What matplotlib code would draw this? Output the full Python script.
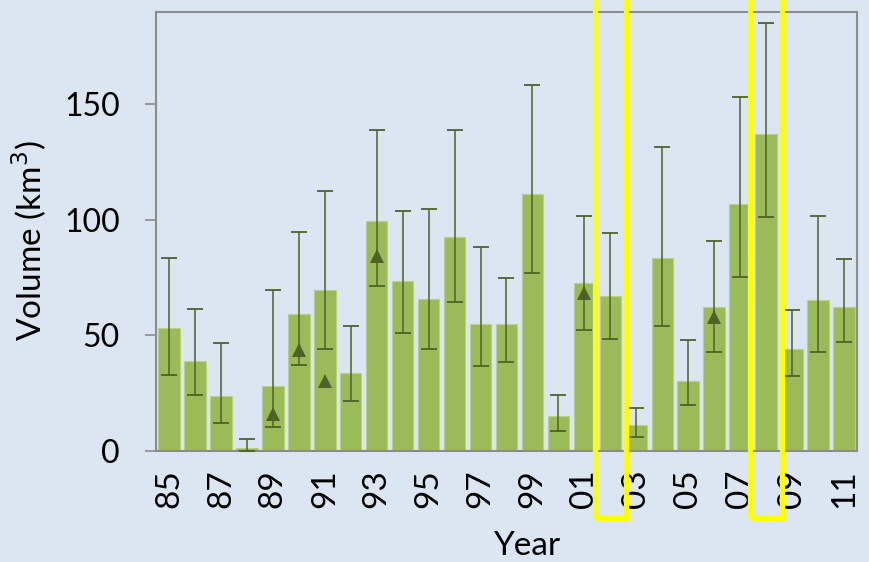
import matplotlib
matplotlib.use("Agg")
import matplotlib.pyplot as plt
import matplotlib.transforms as mtransforms
from matplotlib.patches import Rectangle
import numpy as np

# Annual volume estimates, 1985-2011
years = list(range(1985, 2012))
volume = [53.3, 38.8, 24.0, 1.1, 28.3, 59.1, 69.7, 33.6, 99.4, 73.6,
          66.0, 92.7, 54.8, 54.8, 111.2, 15.1, 72.8, 67.3, 11.2, 83.6,
          30.5, 62.4, 106.9, 137.2, 44.3, 65.4, 62.4]
upper = [83.4, 61.5, 46.7, 5.3, 69.6, 94.6, 112.7, 54.0, 139.1, 103.7,
         104.8, 138.8, 88.1, 74.8, 158.4, 24.3, 101.8, 94.2, 18.5, 131.5,
         47.9, 90.7, 153.2, 185.1, 61.1, 101.8, 83.0]
lower = [32.8, 24.3, 12.2, 0.0, 10.2, 37.1, 44.1, 21.8, 71.2, 51.2,
         44.0, 64.3, 36.8, 38.4, 76.9, 8.6, 52.2, 48.3, 6.1, 54.0,
         19.7, 42.8, 75.1, 101.1, 32.5, 42.8, 47.0]

# Independent estimates shown as triangles
tri_years = [1989, 1990, 1991, 1993, 2001, 2006]
tri_values = [16.2, 43.5, 30.3, 84.2, 68.3, 57.9]

# Years outlined in yellow
highlight_years = [2002, 2008]

tick_years = years[::2]
tick_labels = [f"{y % 100:02d}" for y in tick_years]

bg = "#dce6f2"
bar_color = "#9bbb59"
dark = "#4f6228"

plt.rcParams["font.family"] = ["Lato", "DejaVu Sans"]

fig = plt.figure(figsize=(8.7, 5.62), dpi=100, facecolor=bg)
ax = fig.add_axes([156 / 870, 1 - 451 / 562, (857 - 156) / 870, (451 - 12) / 562])
ax.set_facecolor(bg)

x = np.arange(len(years))
vol = np.array(volume)
yerr = np.vstack([vol - np.array(lower), np.array(upper) - vol])

ax.bar(x, vol, width=0.83, color=bar_color, edgecolor="#b9d08c", linewidth=0.8, zorder=2)
ax.errorbar(x, vol, yerr=yerr, fmt="none", ecolor=dark, elinewidth=1.1,
            capsize=6, capthick=1.3, zorder=3)

tx = [years.index(y) for y in tri_years]
ax.plot(tx, tri_values, linestyle="none", marker="^", ms=10, color=dark,
        markeredgewidth=0, zorder=4)

ax.set_xlim(-0.5, len(years) - 0.5)
ax.set_ylim(0, 190)
ax.set_yticks([0, 50, 100, 150])
ax.set_xticks([years.index(y) for y in tick_years])
ax.set_xticklabels(tick_labels, rotation=90)

ax.tick_params(axis="y", labelsize=23, length=8, width=1.2, color="#8c8c8c", pad=18)
ax.tick_params(axis="x", labelsize=24, length=0, pad=13)

for s in ax.spines.values():
    s.set_color("#8c8c8c")
    s.set_linewidth(1.5)

ax.set_ylabel("Volume (km$^3$)", fontsize=24)
ax.yaxis.set_label_coords(-0.152, 0.48, transform=ax.transAxes)
fig.text(527 / 870, 1 - 546 / 562, "Year", fontsize=24, ha="center", va="center")

# Yellow outlines around selected years, running off the top of the figure
trans = mtransforms.blended_transform_factory(ax.transData, fig.transFigure)
for yr in highlight_years:
    i = years.index(yr)
    y0 = 1 - 518 / 562
    rect = Rectangle((i - 0.61, y0), 1.22, 1.1 - y0, transform=trans,
                     fill=False, edgecolor="#ffff00", linewidth=3.8,
                     clip_on=False, zorder=10)
    fig.add_artist(rect)

fig.savefig("out.png", dpi=100, facecolor=bg)
